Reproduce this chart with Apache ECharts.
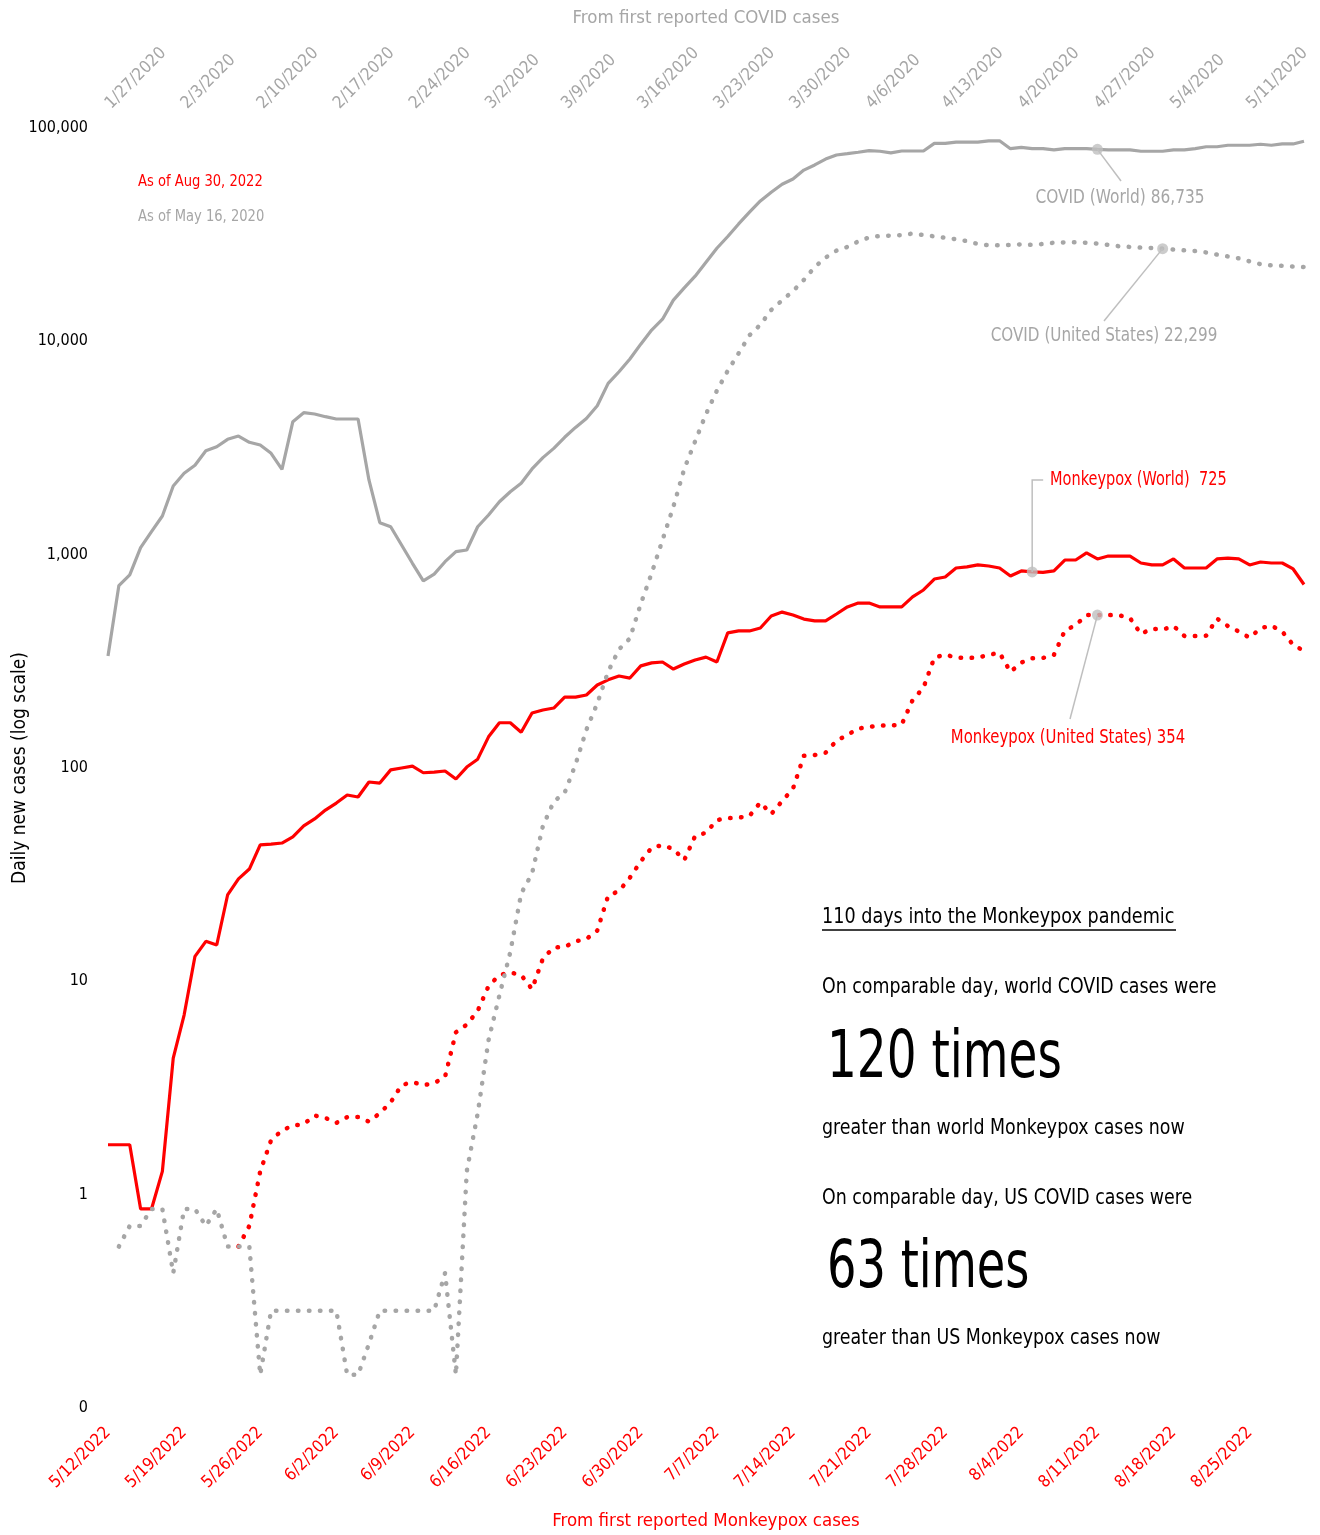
<!DOCTYPE html>
<html>
<head>
<meta charset="utf-8">
<script src="https://cdn.jsdelivr.net/npm/echarts@6/dist/echarts.min.js"></script>
<style>
html,body{margin:0;padding:0;background:#fff;}
#chart{width:1320px;height:1535px;}
</style>
</head>
<body>
<div id="chart"></div>
<script>
// ---- Tick labels ----
const covidTicks = ['1/27/2020','2/3/2020','2/10/2020','2/17/2020','2/24/2020','3/2/2020','3/9/2020','3/16/2020','3/23/2020','3/30/2020','4/6/2020','4/13/2020','4/20/2020','4/27/2020','5/4/2020','5/11/2020'];
const mpoxTicks = ['5/12/2022','5/19/2022','5/26/2022','6/2/2022','6/9/2022','6/16/2022','6/23/2022','6/30/2022','7/7/2022','7/14/2022','7/21/2022','7/28/2022','8/4/2022','8/11/2022','8/18/2022','8/25/2022'];
const yTickValues = [0.1, 1, 10, 100, 1000, 10000, 100000];
const yTickLabels = ['0', '1', '10', '100', '1,000', '10,000', '100,000'];

// ---- Series values (7-day average daily new cases, by day since first reported case) ----
const covidWorld = [335,716,804,1079,1282,1518,2099,2406,2623,3070,3206,3473,3597,3363,3268,2985,2512,4200,4630,4565,4434,4325,4325,4325,2240,1413,1352,1110,911,753,811,927,1033,1052,1352,1535,1771,1972,2163,2523,2850,3150,3550,3950,4350,4990,6350,7200,8260,9700,11300,12700,15600,17800,20200,23500,27300,31000,35500,40300,45500,50000,54500,57700,63500,67100,71500,74700,75800,77000,78400,77800,76500,78000,78000,78000,84700,84700,85900,85900,85900,87100,87100,80000,81200,80000,80000,78900,80000,80000,80000,79400,78900,78900,78900,77800,77800,77800,78900,78900,80000,81700,81700,83000,83000,83000,83900,83000,84200,84200,86735];
const covidUS = [null,0.571,0.714,0.714,0.857,0.857,0.429,0.857,0.857,0.714,0.857,0.571,0.571,0.571,0.143,0.286,0.286,0.286,0.286,0.286,0.286,0.286,0.143,0.143,0.2,0.286,0.286,0.286,0.286,0.286,0.286,0.429,0.143,1.29,2.4,5.3,8.6,13.7,25.8,32,53.5,69.6,76.6,104,151,201,283,360,405,588,818,1172,1679,2524,3400,4560,5870,7280,8790,10670,11960,14030,15570,17200,19400,22300,24700,26600,27700,29400,30700,31200,31300,31500,32000,31500,31050,30600,30100,29500,28600,28200,28200,28300,28500,28300,28600,29000,29100,29100,29000,28700,28300,27900,27700,27500,27400,27200,26900,26700,26500,26100,25500,25000,24500,23700,23000,22700,22600,22400,22299];
const mpoxWorld = [1.714,1.714,1.714,0.857,0.857,1.286,4.37,6.95,13.1,15.4,14.8,25.4,30.2,33.6,43.6,44,44.5,47.6,53.5,57.7,63.5,68.5,74.7,73.1,86,85,98,100,102,95,95.6,96.8,88.8,101,110,140,163,163,147,181,187,191,215,215,220,245,259,270,264,301,311,314,291,307,321,331,314,430,439,439,453,516,538,521,499,489,489,527,569,593,593,569,569,569,634,683,769,786,866,876,895,885,866,794,839,830,826,839,944,944,1019,955,985,985,985,914,895,895,955,866,866,866,955,964,955,895,924,914,914,857,725];
const mpoxUS = [null,null,null,null,null,null,null,null,null,null,null,null,0.571,0.714,1.286,1.8,2.0,2.11,2.14,2.35,2.29,2.17,2.31,2.31,2.2,2.41,2.71,3.26,3.37,3.26,3.33,3.57,5.77,6.27,7.27,9.5,10.7,11.0,10.7,9.2,12.8,14.4,14.5,15.4,15.8,17.3,25.2,26.5,30.6,36.5,42.3,43.5,41.7,37,48,49.7,57,58.2,58.5,59.6,69,60.8,70,80,114,115,118,134,143,153,156,158,158,160,208,238,329,340,329,328,329,339,347,282,312,327,328,339,440,468,521,521,521,520,504,425,450,445,463,416,416,417,502,463,436,408,452,465,436,378,354];

// ---- Callout anchor days ----
const calloutDays = { covidWorld: 91, covidUS: 97, mpoxWorld: 85, mpoxUS: 91 };

const FONT = "'DejaVu Sans Condensed', 'DejaVu Sans', sans-serif";
const GRAY = '#a6a6a6';
const RED = '#ff0000';
const CALLOUT = '#bfbfbf';

function pairs(arr) {
  return arr.map((v, i) => [i, v == null ? '-' : v]);
}

const chart = echarts.init(document.getElementById('chart'), null, { renderer: 'canvas' });

const dotted = { type: [0.5, 10.5], cap: 'round', width: 4.5 };

const option = {
  backgroundColor: '#ffffff',
  animation: false,
  textStyle: { fontFamily: FONT },
  grid: { left: 108, right: 16, top: 128, bottom: 127, containLabel: false, outerBoundsMode: 'none' },
  xAxis: [
    {
      type: 'value', position: 'bottom', min: 0, max: 110, interval: 7,
      axisLine: { show: false }, axisTick: { show: false }, splitLine: { show: false },
      axisLabel: {
        rotate: 45, color: RED, fontSize: 17, fontFamily: FONT, margin: 22,
        showMaxLabel: false,
        formatter: v => (v % 7 === 0 && mpoxTicks[v / 7]) ? mpoxTicks[v / 7] : ''
      },
      name: 'From first reported Monkeypox cases', nameLocation: 'middle', nameGap: 104,
      nameTextStyle: { color: RED, fontSize: 18.5, fontFamily: FONT }
    },
    {
      type: 'value', position: 'top', min: 0, max: 110, interval: 7,
      axisLine: { show: false }, axisTick: { show: false }, splitLine: { show: false },
      axisLabel: {
        rotate: -45, color: GRAY, fontSize: 17, fontFamily: FONT, margin: 22,
        showMaxLabel: false,
        formatter: v => (v % 7 === 0 && covidTicks[v / 7]) ? covidTicks[v / 7] : ''
      },
      name: 'From first reported COVID cases', nameLocation: 'middle', nameGap: 100,
      nameTextStyle: { color: GRAY, fontSize: 18.5, fontFamily: FONT }
    }
  ],
  yAxis: {
    type: 'log', logBase: 10, min: 0.1, max: 100000, interval: 1,
    axisLine: { show: false }, axisTick: { show: false }, splitLine: { show: false },
    axisLabel: {
      color: '#000', fontSize: 16, fontFamily: FONT, margin: 20,
      formatter: v => {
        let best = 0, bd = Infinity;
        yTickValues.forEach((t, i) => { const d = Math.abs(Math.log10(t) - Math.log10(v)); if (d < bd) { bd = d; best = i; } });
        return bd < 0.01 ? yTickLabels[best] : '';
      }
    },
    name: 'Daily new cases (log scale)', nameLocation: 'middle', nameGap: 78, nameRotate: 90,
    nameMoveOverlap: false,
    nameTextStyle: { color: '#000', fontSize: 19, fontFamily: FONT }
  },
  series: [
    { name: 'COVID (World)', type: 'line', xAxisIndex: 0, data: pairs(covidWorld), symbol: 'none',
      lineStyle: { color: GRAY, width: 3.2 }, z: 2 },
    { name: 'COVID (United States)', type: 'line', xAxisIndex: 0, data: pairs(covidUS), symbol: 'none',
      lineStyle: Object.assign({ color: GRAY }, dotted), z: 3 },
    { name: 'Monkeypox (World)', type: 'line', xAxisIndex: 0, data: pairs(mpoxWorld), symbol: 'none',
      lineStyle: { color: RED, width: 3.2 }, z: 2 },
    { name: 'Monkeypox (United States)', type: 'line', xAxisIndex: 0, data: pairs(mpoxUS), symbol: 'none',
      lineStyle: Object.assign({ color: RED }, dotted), z: 2 },
    { name: 'callouts', type: 'scatter', xAxisIndex: 0, symbol: 'circle', symbolSize: 11,
      itemStyle: { color: CALLOUT }, z: 5,
      data: [
        [calloutDays.covidWorld, covidWorld[calloutDays.covidWorld]],
        [calloutDays.covidUS, covidUS[calloutDays.covidUS]],
        [calloutDays.mpoxWorld, mpoxWorld[calloutDays.mpoxWorld]],
        [calloutDays.mpoxUS, mpoxUS[calloutDays.mpoxUS]]
      ] }
  ]
};
chart.setOption(option);

function px(day, val) { return chart.convertToPixel({ xAxisIndex: 0, yAxisIndex: 0 }, [day, val]); }
const pCW = px(calloutDays.covidWorld, covidWorld[calloutDays.covidWorld]);
const pCU = px(calloutDays.covidUS, covidUS[calloutDays.covidUS]);
const pMW = px(calloutDays.mpoxWorld, mpoxWorld[calloutDays.mpoxWorld]);
const pMU = px(calloutDays.mpoxUS, mpoxUS[calloutDays.mpoxUS]);

function txt(x, y, s, size, color, sx, align) {
  return {
    type: 'text', x: x, y: y, z: 10, scaleX: sx || 1, scaleY: 1, originX: 0, originY: 0,
    style: { text: s, fill: color, font: size + 'px ' + FONT, textVerticalAlign: 'middle', textAlign: align || 'left' }
  };
}
function ln(x1, y1, x2, y2, color, w) {
  return { type: 'line', z: 4, shape: { x1, y1, x2, y2 }, style: { stroke: color, lineWidth: w || 1.5 } };
}
function poly(points, color, w) {
  return { type: 'polyline', z: 4, shape: { points }, style: { stroke: color, lineWidth: w || 1.5, fill: null } };
}

const last = covidWorld.length - 1;
const fmt = n => n.toLocaleString('en-US');

chart.setOption({
  graphic: [
    txt(138, 182, 'As of Aug 30, 2022', 16, RED, 0.91),
    txt(138, 217, 'As of May 16, 2020', 16, GRAY, 0.91),
    // callouts
    ln(pCW[0], pCW[1], 1121, 181, CALLOUT),
    txt(1120, 198, 'COVID (World) ' + fmt(covidWorld[last]), 19, GRAY, 0.9, 'center'),
    ln(pCU[0], pCU[1], 1104, 321, CALLOUT),
    txt(1104, 336, 'COVID (United States) ' + fmt(covidUS[last]), 19, GRAY, 0.89, 'center'),
    poly([[pMW[0], pMW[1]], [pMW[0], 480], [pMW[0] + 11, 480]], CALLOUT),
    txt(1050, 480, 'Monkeypox (World)  ' + fmt(mpoxWorld[last]), 19, RED, 0.85),
    ln(pMU[0], pMU[1], 1070, 719, CALLOUT),
    txt(1068, 738, 'Monkeypox (United States) ' + fmt(mpoxUS[last]), 19, RED, 0.87, 'center'),
    // text block
    txt(822, 917, '110 days into the Monkeypox pandemic', 22, '#000', 0.89),
    ln(822, 930, 1176, 930, '#000', 1.3),
    txt(822, 987, 'On comparable day, world COVID cases were', 22, '#000', 0.88),
    txt(827, 1060, '120 times', 66, '#000', 0.79),
    txt(822, 1128, 'greater than world Monkeypox cases now', 22, '#000', 0.88),
    txt(822, 1198, 'On comparable day, US COVID cases were', 22, '#000', 0.88),
    txt(827, 1270, '63 times', 66, '#000', 0.78),
    txt(822, 1338, 'greater than US Monkeypox cases now', 22, '#000', 0.88)
  ]
});
</script>
</body>
</html>
